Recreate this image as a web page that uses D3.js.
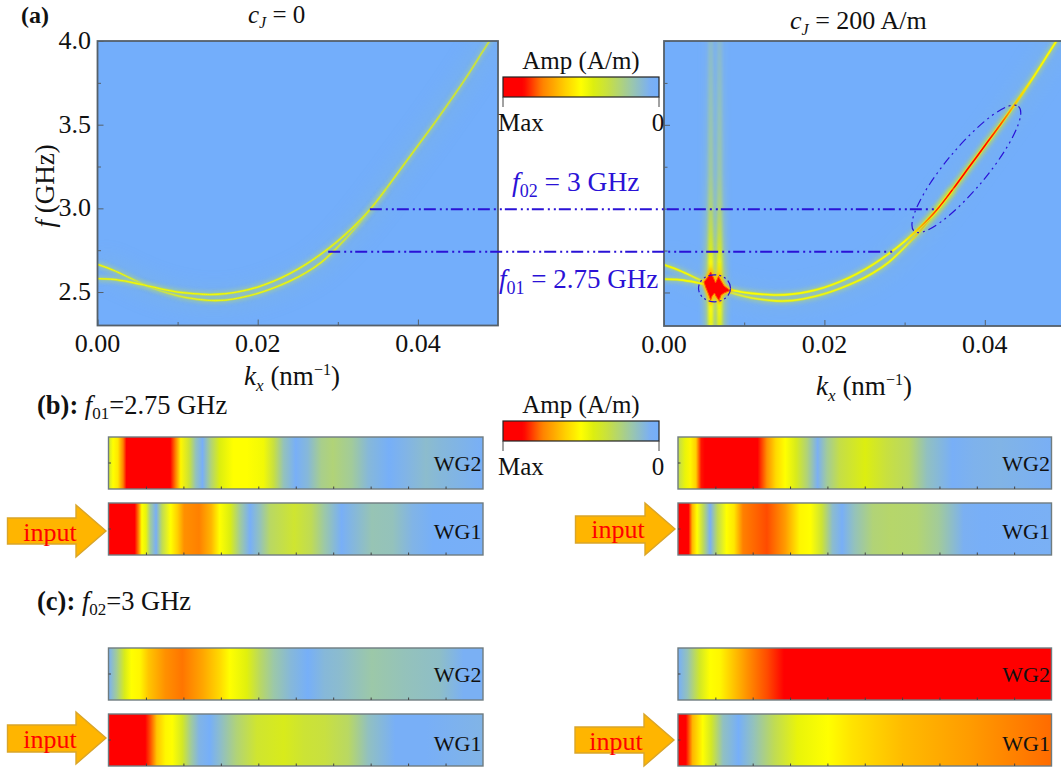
<!DOCTYPE html>
<html><head><meta charset="utf-8">
<script src="https://cdn.jsdelivr.net/npm/d3@7/dist/d3.min.js"></script>
<style>html,body{margin:0;padding:0;background:#fff;overflow:hidden}svg{display:block}text{font-family:"Liberation Serif","Times New Roman",serif;fill:#111}</style>
</head><body><script>
// ---- data ----
const kTicks=[0,0.02,0.04], kMinor=[0.01,0.03], fTicks=[2.5,3,3.5,4], fMinor=[2.75,3.25,3.75];
const upperK=[0,.002,.004,.006,.008,.010,.012,.014,.016,.018,.020,.022,.024,.026,.028,.030,.032,.034,.036,.038,.040,.042,.044,.046,.048,.0492];
const upperF=[2.665,2.63,2.585,2.54,2.505,2.478,2.46,2.45,2.452,2.468,2.492,2.525,2.565,2.615,2.68,2.77,2.872,2.99,3.115,3.245,3.375,3.505,3.64,3.78,3.93,4.02];
const lowerK=[0,.002,.004,.006,.008,.010,.012,.014,.016,.018,.020,.022,.024,.026,.028,.030,.032,.034,.036];
const lowerF=[2.58,2.575,2.56,2.54,2.518,2.5,2.49,2.485,2.49,2.505,2.53,2.565,2.61,2.665,2.73,2.805,2.892,2.992,3.115];
const ampK=[0,.01,.02,.03,.04,.05];
const ampLeft=[.46,.47,.46,.44,.40,.34];
const ampRightK=[0,.008,.02,.028,.030,.0315,.034,.036,.038,.040,.042,.044,.046,.05];
const ampRight=[.47,.5,.48,.48,.5,.62,.82,.92,.95,.9,.8,.62,.52,.5];
const bandK=[.00583,.00692];
const bandF=[4,3.6,3.2,3,2.85,2.75,2.68,2.6,2.55,2.5,2.45,2.4,2.3];
const bandAmp=[.12,.16,.2,.26,.34,.42,.5,.62,.7,.62,.52,.5,.46];
const starK=[.00499,.00549,.00582,.00617,.00642,.0068,.00711,.00748,.00823,.00748,.00711,.00686,.00648,.0063,.00599,.00582,.00555,.00524];
const starF=[2.5625,2.592,2.622,2.586,2.557,2.595,2.568,2.539,2.512,2.497,2.485,2.452,2.479,2.497,2.479,2.455,2.491,2.527];
const f01=2.74, f02=2.995, f01Start=.0288, f02Start=.034, f01End=.0287, f02End=.0339;
const ellBig=[[.0312,2.865],[.0442,3.61]], ellSmall=[.0063,2.525];
const ampStops=[0,.06,.18,.33,.42,.5,.6,.75,.87,1];
const ampColors=['#74aefb','#7bb0f2','#9cc8a8','#c8e040','#dcee10','#ffff00','#ffd000','#ff8000','#ff0000','#ff0000'];
const wgTicks=[10,20,30,40,50,60,70,80,90];
const b1WG2=[[0,.35],[1.2,.5],[2.5,.55],[3.9,.75],[4.8,.9],[16.5,.9],[17.9,.75],[19.3,.52],[21.5,.35],[23.3,.15],[25.1,.03],[27.4,.25],[29.7,.42],[33.3,.5],[36.9,.5],[41.4,.47],[44.1,.33],[46.8,.15],[50,.03],[53.2,.1],[56.8,.22],[59.9,.25],[64.9,.2],[69.4,.1],[74.9,.02],[79.4,.08],[84.8,.12],[88.4,.1],[100,.03]];
const b1WG1=[[0,.9],[7,.9],[8,.75],[8.9,.5],[10,.45],[11.2,.2],[12.7,.04],[14.3,.3],[16.6,.5],[18.4,.6],[20.2,.72],[24.2,.75],[27.4,.65],[29.7,.5],[32.4,.42],[35.1,.2],[37.8,.03],[40.5,.15],[43.2,.28],[49.6,.36],[54.1,.3],[57.7,.18],[62.2,.03],[65.8,.1],[70.3,.16],[75.8,.15],[81.2,.08],[86.6,.02],[100,.03]];
const b2WG2=[[0,.3],[1.9,.45],[3.3,.52],[4.8,.6],[6.2,.85],[7.2,.92],[21.3,.92],[23.8,.72],[26.2,.58],[28.7,.5],[31.6,.4],[34.5,.25],[37.4,.06],[39.9,.2],[43.3,.32],[50.1,.42],[55.9,.33],[61.8,.28],[66.7,.14],[73.5,.03],[79.3,.07],[86.2,.08],[100,.04]];
const b2WG1=[[0,.95],[2.8,.92],[3.8,.65],[5.1,.5],[6.7,.3],[8.6,.04],[10.6,.3],[13,.5],[15,.55],[17.4,.75],[23.8,.8],[28.7,.7],[32.6,.52],[35.5,.5],[38.5,.35],[41.4,.12],[43.9,.03],[47.3,.15],[52.2,.25],[57,.27],[63.9,.26],[69.7,.2],[76.5,.06],[81.4,.03],[100,.05]];
const c1WG2=[[0,.05],[2.1,.2],[4.3,.4],[6.1,.5],[8.4,.52],[10.7,.62],[15.2,.72],[19.7,.76],[25.1,.68],[29.7,.58],[32.4,.5],[36.9,.43],[40.5,.28],[44.1,.18],[48.6,.1],[53.2,.02],[57.7,.1],[62.2,.12],[70.3,.18],[79.4,.15],[88.4,.13],[94.8,.05],[100,.05]];
const c1WG1=[[0,.92],[9.8,.92],[11.1,.8],[12.9,.62],[15.2,.52],[17,.5],[19.7,.38],[22,.2],[24.2,.08],[27,.02],[29.7,.12],[34.2,.25],[39.6,.36],[46.8,.4],[52.3,.35],[57.7,.33],[64,.28],[69.4,.14],[76.6,.03],[84.8,.03],[100,.08]];
const c2WG2=[[0,.02],[2.5,.15],[5.9,.38],[8.6,.5],[11.3,.52],[14,.6],[18.6,.72],[23.9,.8],[28.4,.92],[100,.92]];
const c2WG1=[[0,.95],[2.1,.9],[3.9,.65],[6.6,.5],[8.9,.38],[12.1,.14],[16.2,.02],[20.3,.15],[25.7,.3],[32,.45],[40.2,.5],[46.6,.56],[60.2,.64],[78.3,.7],[100,.77]];

// ---- drawing ----
const W=1061,H=769;
const svg=d3.select('body').append('svg').attr('width',W).attr('height',H);
const defs=svg.append('defs');
const color=d3.scaleLinear().domain(ampStops).range(ampColors).clamp(true);
const BG='#73aefb', BLUE='#2a12d6', FRAME='#55606a';
function blur(id,s){defs.append('filter').attr('id',id).attr('filterUnits','userSpaceOnUse').attr('x',0).attr('y',0).attr('width',W).attr('height',H)
  .append('feGaussianBlur').attr('stdDeviation',s);}
blur('b03',.3);blur('b05',.6);blur('b1',1);blur('b15',1.5);blur('b2',2);blur('b3',3);blur('b12',11);
let gid=0;
function gradient(stops,x1,x2,y1,y2,fn){const id='g'+(gid++);
  const g=defs.append('linearGradient').attr('id',id).attr('gradientUnits','userSpaceOnUse').attr('x1',x1).attr('x2',x2).attr('y1',y1).attr('y2',y2);
  g.selectAll('stop').data(stops).join('stop').attr('offset',d=>d[0]).attr('stop-color',d=>color(fn?fn(d[1]):d[1]));
  return 'url(#'+id+')';}
function rich(sel,parts){
  parts.forEach(p=>{const s=sel.append('tspan').text(p.t);
    if(p.i)s.attr('font-style','italic'); if(p.b)s.attr('font-weight','bold');
    if(p.fs)s.attr('font-size',p.fs);
    if(p.dy)s.attr('dy',p.dy); if(p.dx)s.attr('dx',p.dx);});
  return sel;}
function label(x,y,size,anchor,parts,fill){const t=svg.append('text').attr('x',x).attr('y',y).attr('font-size',size).attr('text-anchor',anchor);
  if(fill)t.style('fill',fill); return rich(t,parts);}

function panel(x0,x1,y0,y1,ampK_,amps,isRight){
  const x=d3.scaleLinear().domain([0,.05]).range([x0,x1]);
  const y=d3.scaleLinear().domain([2.3,4]).range([y1,y0]);
  const cid='clip'+x0;
  defs.append('clipPath').attr('id',cid).append('rect').attr('x',x0).attr('y',y0).attr('width',x1-x0).attr('height',y1-y0);
  const g=svg.append('g').attr('clip-path','url(#'+cid+')');
  g.append('rect').attr('x',x0).attr('y',y0).attr('width',x1-x0).attr('height',y1-y0).attr('fill',BG);
  const line=d3.line().x(d=>x(d[0])).y(d=>y(d[1])).curve(d3.curveCatmullRom);
  const up=upperK.map((k,i)=>[k,upperF[i]]), lo=lowerK.map((k,i)=>[k,lowerF[i]]);
  const stops=ampK_.map((k,i)=>[k/.05,amps[i]]);
  const paint=gradient(stops,x0,x1,0,0), halo=gradient(stops,x0,x1,0,0,a=>a*.6), soft=gradient(stops,x0,x1,0,0,a=>a*.4);
  g.append('path').attr('d',line(up)).attr('fill','none').attr('stroke','#90c0b0').attr('stroke-width',16).attr('opacity',.22).attr('filter','url(#b12)');
  if(isRight){
    bandK.forEach((k,i)=>{
      const wide=gradient(bandF.map((f,j)=>[(f-4)/(2.3-4),bandAmp[j]*.55]),0,0,y(4),y(2.3));
      g.append('rect').attr('x',x(k)-6).attr('width',12).attr('y',y0-12).attr('height',y1-y0+24).attr('fill',wide).attr('opacity',.75).attr('filter','url(#b3)');
    });
    bandK.forEach((k,i)=>{
      const fill=gradient(bandF.map((f,j)=>[(f-4)/(2.3-4),bandAmp[j]*(i?0.93:1)]),0,0,y(4),y(2.3));
      g.append('rect').attr('x',x(k)-2.4).attr('width',4.8).attr('y',y0-12).attr('height',y1-y0+24).attr('fill',fill).attr('filter','url(#b15)');
    });
  }
  [up,lo].forEach(c=>{
    g.append('path').attr('d',line(c)).attr('fill','none').attr('stroke',soft).attr('stroke-width',isRight?6:5.5).attr('opacity',.85).attr('filter','url(#b2)');
    g.append('path').attr('d',line(c)).attr('fill','none').attr('stroke',halo).attr('stroke-width',isRight?2.8:2.4).attr('filter','url(#b05)');
    g.append('path').attr('d',line(c)).attr('fill','none').attr('stroke',paint).attr('stroke-width',isRight?1.6:1.3).attr('filter','url(#b03)');
  });
  if(isRight){
    const star=starK.map((k,i)=>[k,starF[i]]);
    const sp=d3.line().x(d=>x(d[0])).y(d=>y(d[1]))(star)+'Z';
    g.append('path').attr('d',sp).attr('fill','#ffd000').attr('stroke','#ffc000').attr('stroke-width',4).attr('filter','url(#b1)');
    g.append('path').attr('d',sp).attr('fill','#ff0000').attr('stroke','#ff5000').attr('stroke-width',1);
  }
  const fr=svg.append('g');
  fr.append('rect').attr('x',x0).attr('y',y0).attr('width',x1-x0).attr('height',y1-y0).attr('fill','none').attr('stroke',FRAME).attr('stroke-width',1.8);
  const ax=(maj,min,scale,gen,tr)=>{
    const a=fr.append('g').attr('transform',tr).call(gen(scale).tickValues(maj).tickSizeInner(-6).tickSizeOuter(0).tickFormat(''));
    a.select('.domain').remove(); a.selectAll('line').attr('stroke',FRAME);
    const b=fr.append('g').attr('transform',tr).call(gen(scale).tickValues(min).tickSizeInner(-3.5).tickSizeOuter(0).tickFormat(''));
    b.select('.domain').remove(); b.selectAll('line').attr('stroke',FRAME);
  };
  ax(kTicks,kMinor,x,d3.axisBottom,`translate(0,${y1})`);
  ax(fTicks,fMinor,y,d3.axisLeft,`translate(${x0},0)`);
  kTicks.forEach(k=>svg.append('text').attr('x',x(k)).attr('y',y1+26.5).attr('font-size',26).attr('text-anchor','middle').text(k.toFixed(2)));
  return {x,y};
}
const L=panel(97.5,498,41,325.5,ampK,ampLeft,false);
const R=panel(664,1065,41,326,ampRightK,ampRight,true);
fTicks.forEach(f=>svg.append('text').attr('x',91).attr('y',L.y(f)+8).attr('font-size',26).attr('text-anchor','end').text(f.toFixed(1)));

[[f02,f02Start,f02End],[f01,f01Start,f01End]].forEach(([f,a,b])=>{
  svg.append('line').attr('x1',L.x(a)).attr('x2',R.x(b)).attr('y1',L.y(f)).attr('y2',L.y(f))
    .attr('stroke',BLUE).attr('stroke-width',2).attr('stroke-dasharray','12 4 2 4 2 3');
});
{const [p,q]=ellBig, x1=R.x(p[0]),y1=R.y(p[1]),x2=R.x(q[0]),y2=R.y(q[1]);
 const cx=(x1+x2)/2,cy=(y1+y2)/2,rx=Math.hypot(x2-x1,y2-y1)/2,ang=Math.atan2(y2-y1,x2-x1)*180/Math.PI;
 svg.append('ellipse').attr('transform',`translate(${cx},${cy}) rotate(${ang})`).attr('rx',rx).attr('ry',rx*.25)
  .attr('fill','none').attr('stroke',BLUE).attr('stroke-width',1.2).attr('stroke-dasharray','9 4 2 4 2 4');
 svg.append('ellipse').attr('cx',R.x(ellSmall[0])).attr('cy',R.y(ellSmall[1])).attr('rx',16).attr('ry',13.5)
  .attr('fill','none').attr('stroke',BLUE).attr('stroke-width',1.2).attr('stroke-dasharray','8 3 2 3 2 3');}

function colorbar(y0,y1,yTick,yTitle,yMax){
  const x=d3.scaleLinear().domain([1,0]).range([503,659]);
  const stops=d3.range(0,1.0001,.02).map(t=>[t,1-t]);
  svg.append('rect').attr('x',503).attr('y',y0).attr('width',156).attr('height',y1-y0).attr('fill',gradient(stops,503,659,0,0)).attr('stroke','#222').attr('stroke-width',1.2);
  [1,0].forEach(v=>svg.append('line').attr('x1',x(v)).attr('x2',x(v)).attr('y1',y1).attr('y2',yTick).attr('stroke','#444').attr('stroke-width',1));
  label(581,yTitle,25,'middle',[{t:'Amp (A/m)'}]);
  label(498,yMax,25,'start',[{t:'Max'}]);
  label(658,yMax,25,'middle',[{t:'0'}]);
}
colorbar(77,97,107,69,131);
colorbar(421,441,451,413,475);

function strip(x0,x1,y0,y1,data,name,ny){
  const x=d3.scaleLinear().domain([0,100]).range([x0,x1]);
  const fill=gradient(data.map(d=>[d[0]/100,d[1]]),x0,x1,0,0);
  svg.append('rect').attr('x',x0).attr('y',y0).attr('width',x1-x0).attr('height',y1-y0).attr('fill',fill).attr('stroke','#6f7c80').attr('stroke-width',1.4);
  const a=svg.append('g').attr('transform',`translate(0,${y1})`).call(d3.axisBottom(x).tickValues(wgTicks).tickSizeInner(-2.5).tickSizeOuter(0).tickFormat(''));
  a.select('.domain').remove(); a.selectAll('line').attr('stroke','#444');
  svg.append('line').attr('x1',x0).attr('x2',x0+2.5).attr('y1',(y0+y1)/2).attr('y2',(y0+y1)/2).attr('stroke','#444');
  label(x1-1.5,ny,22,'end',[{t:name}]);
}
strip(108.5,483,437,489,b1WG2,'WG2',471);
strip(108.5,483,503,555,b1WG1,'WG1',539);
strip(678,1051.5,437,489,b2WG2,'WG2',471);
strip(678,1051.5,503,555,b2WG1,'WG1',539);
strip(108.5,483,648,700,c1WG2,'WG2',682);
strip(108.5,483,714,766,c1WG1,'WG1',751);
strip(678,1051.5,648,700,c2WG2,'WG2',682);
strip(678,1051.5,714,766,c2WG1,'WG1',751);

function arrow(x0,xh,x1,yb0,yb1,yh0,yh1,tx,ty){
  const pts=[[x0,yb0],[xh,yb0],[xh,yh0],[x1,(yh0+yh1)/2],[xh,yh1],[xh,yb1],[x0,yb1]];
  svg.append('path').attr('d',d3.line()(pts)+'Z').attr('fill','#ffb500').attr('stroke','#d9a52a').attr('stroke-width',1.4);
  label(tx,ty,26,'middle',[{t:'input'}],'#ff0000');
}
arrow(7.5,76,106,518,544,505,557,50,540.5);
arrow(575.5,645,675,516,543,503,555,618,538);
arrow(7.5,76,106,725,752,712,764,50,748);
arrow(575,644,674,727,753,714,766,616,750);

label(21,23,24,'start',[{t:'(a)',b:1}]);
label(248,23,25,'start',[{t:'c',i:1},{t:'J',i:1,fs:16,dy:5},{t:' = 0',dy:-5}]);
label(790,29,26,'start',[{t:'c',i:1},{t:'J',i:1,fs:16,dy:6},{t:' = 200 A/m',dy:-6}]);
const kxLabel=(x,y)=>label(x,y,27,'middle',[{t:'k',i:1},{t:'x',i:1,fs:17,dy:6},{t:' (nm',dy:-6},{t:'\u22121',fs:16,dy:-10},{t:')',dy:10}]);
kxLabel(292,385); kxLabel(864,395);
svg.append('text').attr('transform','translate(54,186) rotate(-90)').attr('font-size',27).attr('text-anchor','middle')
  .call(s=>rich(s,[{t:'f',i:1},{t:' (GHz)'}]));
label(512,191,27.5,'start',[{t:'f',i:1},{t:'02',fs:18,dy:6},{t:' = 3 GHz',dy:-6}],BLUE);
label(499,288,27,'start',[{t:'f',i:1},{t:'01',fs:18,dy:6},{t:' = 2.75 GHz',dy:-6}],BLUE);
label(37,414,26.5,'start',[{t:'(b):',b:1},{t:' f',i:1},{t:'01',fs:17,dy:5},{t:'=2.75 GHz',dy:-5}]);
label(37,610,26.5,'start',[{t:'(c):',b:1},{t:' f',i:1},{t:'02',fs:17,dy:5},{t:'=3 GHz',dy:-5}]);
</script></body></html>
